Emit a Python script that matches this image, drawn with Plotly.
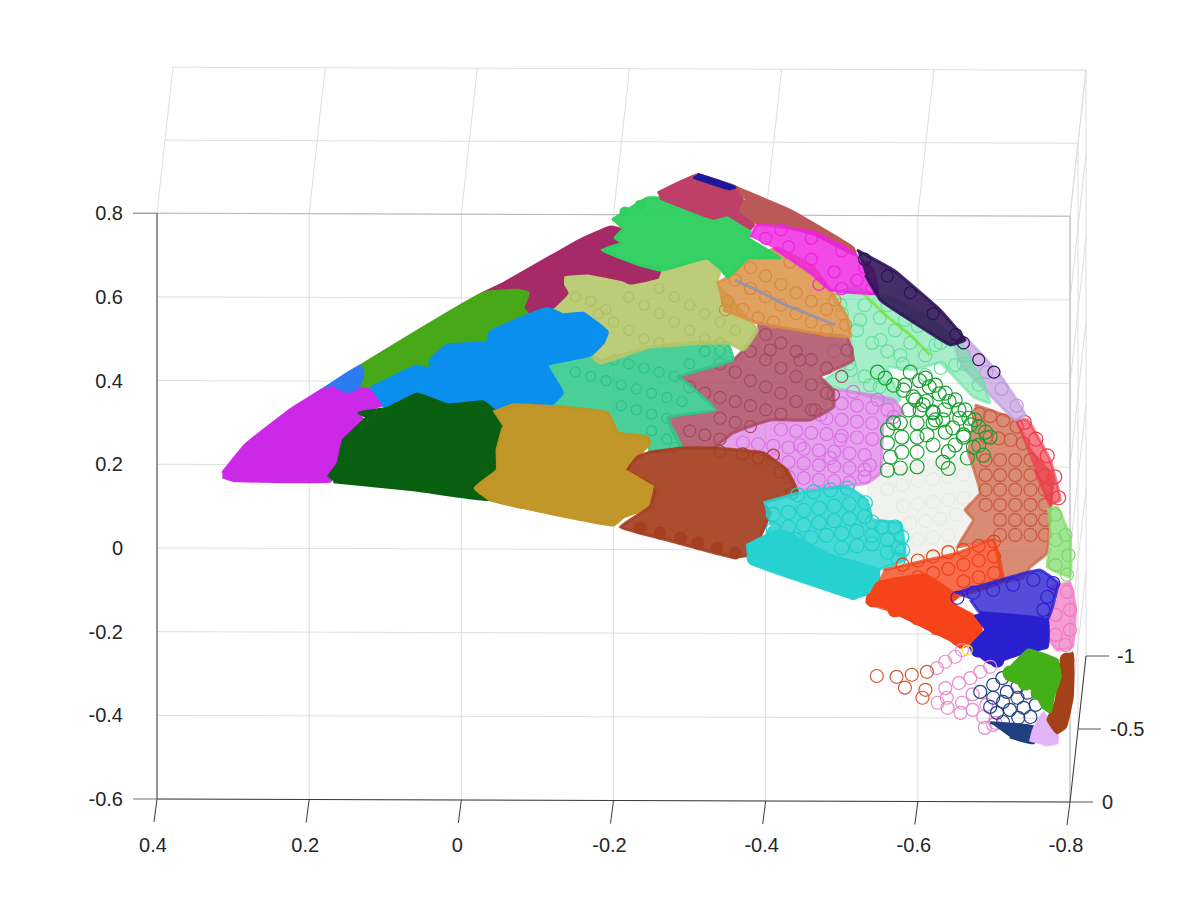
import plotly.graph_objects as go

x_ticks = [0.4, 0.2, 0, -0.2, -0.4, -0.6, -0.8]
y_ticks = [0.8, 0.6, 0.4, 0.2, 0, -0.2, -0.4, -0.6]
z_ticks = [0, -0.5, -1]
x_labels = ["0.4", "0.2", "0", "-0.2", "-0.4", "-0.6", "-0.8"]
y_labels = ["0.8", "0.6", "0.4", "0.2", "0", "-0.2", "-0.4", "-0.6"]
z_labels = ["0", "-0.5", "-1"]

purple_x = [.314,.284,.225,.179,.168,.120,.104,.137,.129,.155,.151,.175,.172,.300,.314]
purple_y = [.179,.246,.330,.382,.389,.377,.342,.323,.306,.258,.203,.179,.160,.162,.170]
sky_x = [.179,.133,.129,.135,.150,.168]
sky_y = [.382,.435,.418,.385,.373,.389]
leaf_x = [.133,-.029,-.074,-.088,-.081,-.088,-.038,-.034,.018,.041,.041,.058,.120,.135,.129]
leaf_y = [.435,.609,.616,.609,.573,.557,.516,.492,.485,.449,.425,.435,.382,.385,.418]
forest_x = [.175,.162,.155,.124,.135,.097,.058,.018,-.029,-.045,-.055,-.047,-.047,-.018,-.038,.063,.168]
forest_y = [.170,.203,.258,.313,.323,.334,.368,.342,.349,.325,.289,.234,.186,.143,.115,.139,.158]
azure_x = [.120,.058,.041,.041,.018,-.034,-.038,-.113,-.134,-.160,-.192,-.187,-.170,-.113,-.133,-.117,-.078,-.042,-.029,.018,.058,.097,.104]
azure_y = [.382,.435,.425,.449,.485,.492,.516,.573,.557,.561,.516,.492,.461,.437,.370,.342,.342,.325,.349,.342,.368,.334,.342]
gold_x = [-.042,-.068,-.147,-.192,-.206,-.244,-.248,-.231,-.218,-.255,-.248,-.213,-.200,-.095,-.038,-.018,-.047,-.047,-.055]
gold_y = [.325,.342,.334,.323,.275,.265,.251,.217,.186,.146,.098,.074,.055,.091,.115,.143,.186,.234,.289]
teal_x = [-.113,-.139,-.170,-.183,-.248,-.314,-.350,-.357,-.284,-.292,-.334,-.271,-.290,-.248,-.244,-.206,-.192,-.117,-.133]
teal_y = [.437,.461,.461,.449,.480,.492,.490,.449,.409,.401,.330,.311,.239,.229,.265,.275,.323,.342,.370]
raspberry_x = [-.029,-.051,-.156,-.196,-.212,-.202,-.212,-.185,-.235,-.261,-.258,-.222,-.213,-.166,-.134,-.133,-.139,-.121,-.113,-.088,-.081,-.088,-.074]
raspberry_y = [.609,.628,.736,.767,.760,.741,.729,.712,.676,.669,.647,.633,.640,.657,.652,.628,.609,.576,.573,.557,.573,.609,.616]
khaki_x = [-.134,-.166,-.213,-.261,-.279,-.323,-.340,-.336,-.389,-.371,-.350,-.248,-.183,-.170,-.187,-.192,-.156,-.121,-.121,-.139,-.133]
khaki_y = [.652,.657,.640,.657,.671,.693,.664,.633,.521,.473,.490,.480,.442,.461,.492,.521,.561,.540,.576,.609,.628]
emerald_x = [-.198,-.244,-.261,-.331,-.350,-.380,-.377,-.419,-.377,-.350,-.340,-.323,-.279,-.261,-.235,-.185,-.212,-.202,-.212]
emerald_y = [.784,.836,.836,.788,.796,.764,.741,.693,.693,.647,.669,.693,.671,.664,.676,.712,.729,.741,.760]
rose_x = [-.258,-.310,-.363,-.371,-.384,-.380,-.350,-.331,-.261]
rose_y = [.848,.891,.860,.824,.772,.764,.796,.788,.836]
navy_top_x = [-.310,-.360,-.353,-.305]
navy_top_y = [.893,.862,.858,.886]
clay_x = [-.360,-.432,-.515,-.518,-.465,-.419,-.389,-.367,-.373]
clay_y = [.862,.807,.717,.700,.748,.772,.776,.807,.831]
magenta_x = [-.380,-.389,-.419,-.463,-.515,-.541,-.547,-.485,-.459,-.410]
magenta_y = [.743,.772,.767,.755,.705,.664,.609,.616,.657,.717]
indigo_x = [-.520,-.568,-.629,-.662,-.643,-.610,-.551,-.531]
indigo_y = [.712,.664,.569,.497,.485,.521,.592,.652]
lilac_x = [-.643,-.662,-.708,-.741,-.728,-.689,-.656]
lilac_y = [.497,.502,.413,.318,.306,.377,.437]
orange_x = [-.336,-.350,-.377,-.415,-.463,-.485,-.507,-.511,-.463,-.389,-.344]
orange_y = [.633,.647,.688,.717,.671,.616,.552,.504,.514,.538,.569]
dusty_x = [-.389,-.463,-.507,-.515,-.472,-.489,-.489,-.459,-.406,-.357,-.331,-.290,-.271,-.334,-.292,-.284,-.357,-.371,-.389]
dusty_y = [.538,.514,.504,.449,.409,.377,.337,.306,.306,.275,.239,.239,.311,.330,.401,.409,.449,.473,.521]
mint_x = [-.485,-.515,-.547,-.568,-.612,-.656,-.682,-.695,-.673,-.629,-.594,-.560,-.577,-.568,-.507,-.472,-.515,-.507]
mint_y = [.600,.624,.604,.597,.552,.490,.409,.346,.361,.442,.425,.432,.354,.346,.377,.394,.449,.545]
orchid_x = [-.489,-.489,-.568,-.581,-.555,-.551,-.533,-.445,-.436,-.422,-.397,-.331,-.357,-.406,-.459]
orchid_y = [.337,.377,.354,.323,.299,.179,.155,.139,.146,.194,.227,.239,.275,.306,.306]
sienna_x = [-.218,-.231,-.248,-.290,-.331,-.397,-.428,-.442,-.397,-.406,-.393,-.393,-.357,-.271,-.209,-.248,-.255]
sienna_y = [.186,.217,.229,.239,.239,.227,.186,.131,.108,.084,.026,-.012,-.022,.019,.050,.098,.146]
cyan_x = [-.397,-.442,-.507,-.533,-.541,-.577,-.583,-.548,-.547,-.515,-.481,-.380,-.376,-.393,-.406]
cyan_y = [.108,.131,.146,.115,.067,.060,-.029,-.053,-.100,-.119,-.100,-.036,.007,.002,.050]
cyan_core_x = [-.376,-.419,-.485,-.548,-.547,-.515,-.481,-.380]
cyan_core_y = [.007,.043,-.017,-.053,-.100,-.119,-.100,-.036]
ivory_x = [-.533,-.555,-.643,-.665,-.682,-.665,-.673,-.652,-.646,-.555,-.581,-.586,-.573,-.533]
ivory_y = [.155,.186,.217,.210,.131,.115,.067,.002,-.012,-.053,-.036,.026,.060,.074]
vermilion_x = [-.555,-.652,-.699,-.712,-.652,-.643,-.682,-.682,-.656,-.643,-.616,-.590,-.561,-.533,-.547]
vermilion_y = [-.053,-.012,.019,-.081,-.117,-.131,-.172,-.220,-.237,-.220,-.196,-.172,-.148,-.131,-.084]
vermilion_core_x = [-.533,-.547,-.610,-.652,-.643,-.682,-.682,-.656,-.643,-.616,-.590,-.561]
vermilion_core_y = [-.131,-.084,-.065,-.117,-.131,-.172,-.220,-.237,-.220,-.196,-.172,-.148]
brick_x = [-.675,-.728,-.748,-.778,-.774,-.770,-.748,-.738,-.712,-.699,-.652,-.673,-.662,-.682,-.665]
brick_y = [.342,.306,.234,.170,.098,-.012,-.045,-.072,-.081,.019,.002,.067,.091,.131,.234]
scarlet_x = [-.728,-.744,-.774,-.787,-.774,-.754]
scarlet_y = [.306,.306,.210,.115,.103,.186]
spring_x = [-.770,-.783,-.800,-.800,-.770,-.774]
spring_y = [.091,.098,.026,-.069,-.045,.002]
pink_x = [-.774,-.800,-.807,-.803,-.783,-.765,-.770,-.783]
pink_y = [-.093,-.084,-.141,-.237,-.244,-.196,-.172,-.124]
royal_x = [-.649,-.761,-.784,-.770,-.682,-.669]
royal_y = [-.108,-.053,-.084,-.172,-.155,-.124]
royal_core_x = [-.682,-.770,-.770,-.738,-.695,-.669,-.689,-.675]
royal_core_y = [-.155,-.172,-.237,-.251,-.275,-.237,-.196,-.160]
lawn_x = [-.715,-.745,-.783,-.787,-.778,-.774,-.765,-.752,-.737,-.715]
lawn_y = [-.299,-.244,-.268,-.308,-.356,-.392,-.382,-.339,-.327,-.311]
rust_x = [-.784,-.803,-.803,-.794,-.783,-.771,-.781,-.787]
rust_y = [-.284,-.251,-.356,-.428,-.442,-.411,-.370,-.308]
mauve_x = [-.748,-.752,-.765,-.774,-.783,-.783,-.765]
mauve_y = [-.463,-.435,-.394,-.418,-.442,-.466,-.471]
navy_x = [-.695,-.752,-.752,-.721]
navy_y = [-.418,-.428,-.466,-.452]

vermilion_dots_x = [-.541,-.570,-.599,-.625,-.653]
vermilion_dots_y = [-.124,-.148,-.167,-.191,-.215]
cyan_dots_x = [-.384,-.410,-.435,-.461,-.487,-.515,-.537]
cyan_dots_y = [-.024,-.041,-.057,-.072,-.088,-.108,-.100]
royal_dots_x = [-.679,-.704,-.748]
royal_dots_y = [-.244,-.268,-.260]
sienna_dots_x = [-.360,-.336,-.311,-.288,-.261,-.235]
sienna_dots_y = [-.012,0,.012,.024,.036,.048]
lawn_dots_x = [-.721,-.741,-.758]
lawn_dots_y = [-.299,-.323,-.346]
rust_dots_x = [-.796,-.796,-.794,-.791,-.783]
rust_dots_y = [-.268,-.299,-.332,-.368,-.404]
emerald_dots_x = [-.215,-.235]
emerald_dots_y = [.803,.819]

grove_rings_x = [-.560,-.568,-.560,-.564,-.560,-.577,-.599,-.633,-.579,-.599,-.579,-.599,-.620,-.599,-.620,-.620,-.603,-.577,
                 -.547,-.557,-.568,-.581,-.594,-.607,-.620,-.633,-.646,-.660,-.673,-.686,
                 -.610,-.623,-.636,-.649,-.662,-.675,-.689,-.583,-.597,-.623,-.636,-.649,-.669,
                 -.590,-.602,-.615,-.628,-.641,-.654,-.667,-.680,-.695,-.588,-.611,-.635,-.655,-.612,-.640,-.660,-.680,-.640,-.665]
grove_rings_y = [.282,.299,.251,.217,.186,.191,.194,.205,.229,.229,.265,.265,.246,.299,.299,.323,.330,.299,
                 .420,.406,.389,.377,.361,.342,.325,.306,.287,.265,.241,.222,
                 .406,.389,.370,.354,.330,.306,.277,.389,.354,.306,.277,.246,.294,
                 .420,.400,.385,.368,.350,.330,.310,.290,.265,.330,.350,.330,.310,.270,.230,.270,.245,.190,.215]
cyan_rings_x = [-.531,-.540,-.570,-.579,-.574,-.574,-.553,-.507,-.485,-.463,-.442,
                -.41,-.43,-.45,-.47,-.49,-.51,-.41,-.43,-.45,-.47,-.49,-.51,-.53,
                -.44,-.46,-.48,-.50,-.52,-.54,-.56,-.50,-.52,-.54,-.56,-.58]
cyan_rings_y = [.108,.062,.050,.026,0,-.029,.050,.143,.139,.134,.127,
                .08,.085,.09,.095,.10,.105,.045,.05,.055,.06,.065,.07,.075,
                .02,.025,.03,.035,.04,.03,.02,0,.005,.01,-.01,-.005]
brick_rings_x = [-.689,-.708,-.728,-.748,-.767,-.689,-.708,-.728,-.748,-.767,-.689,-.708,-.728,-.748,-.767,-.689,-.708,-.728,-.748,-.767,-.708,-.728,-.748,-.767,-.708,-.728,-.748,
                 -.680,-.695,-.712,-.730,-.690,-.706,-.722,-.738]
brick_rings_y = [.210,.210,.210,.210,.174,.174,.174,.174,.174,.139,.139,.139,.139,.139,.103,.103,.103,.103,.103,.067,.067,.067,.067,.031,.031,.031,.031,
                 .320,.315,.305,.290,.265,.262,.258,.250]
royal_rings_x = [-.652,-.673,-.699,-.725,-.752,-.778,-.770,-.765]
royal_rings_y = [-.119,-.107,-.100,-.088,-.076,-.084,-.117,-.148]
spring_rings_x = [-.781,-.794,-.798,-.796,-.781,-.781]
spring_rings_y = [.079,.031,-.017,-.064,.019,-.041]
pink_rings_x = [-.796,-.800,-.800,-.781,-.781,-.794]
pink_rings_y = [-.105,-.148,-.196,-.160,-.208,-.232]
mint_rings_x = [-.498,-.524,-.551,-.577,-.610,-.583,-.623,-.649,-.512,-.537,
                -.50,-.52,-.54,-.56,-.58,-.53,-.55,-.57,-.59,-.61,-.63,-.49,-.51,-.53,-.55,-.56,-.60,-.63,-.66,-.68]
mint_rings_y = [.581,.545,.497,.461,.413,.545,.485,.437,.425,.389,
                .56,.52,.49,.47,.44,.58,.55,.52,.49,.46,.43,.47,.44,.41,.385,.58,.53,.49,.44,.39]
orchid_rings_x = [-.515,-.547,-.568,-.472,-.498,-.537,-.485,-.445,
                  -.50,-.52,-.54,-.56,-.48,-.50,-.52,-.54,-.42,-.44,-.46,-.48,-.50,-.52,-.54,
                  -.37,-.39,-.41,-.43,-.45,-.47,-.49,-.51,-.53,-.41,-.43,-.45,-.47,-.49,-.51,-.53,-.43,-.45,-.47,-.49,-.51,-.53]
orchid_rings_y = [.373,.354,.313,.318,.258,.198,.215,.246,
                  .345,.340,.335,.330,.310,.306,.302,.298,.283,.279,.275,.272,.268,.264,.260,
                  .252,.248,.244,.240,.237,.233,.230,.226,.222,.209,.205,.202,.198,.195,.191,.187,.170,.167,.163,.160,.156,.170]
dusty_rings_x = [-.489,-.465,-.507,-.406,-.445,
                 -.40,-.42,-.44,-.46,-.48,-.50,-.38,-.40,-.42,-.44,-.46,-.48,
                 -.34,-.36,-.38,-.40,-.42,-.44,-.46,-.30,-.32,-.34,-.36,-.38,-.40,-.42,-.34,-.36,-.38,-.30,-.32,-.34]
dusty_rings_y = [.366,.330,.473,.473,.449,
                 .51,.49,.47,.45,.43,.41,.47,.45,.43,.41,.39,.37,
                 .44,.42,.40,.385,.37,.35,.33,.385,.37,.36,.35,.34,.33,.32,.31,.30,.29,.28,.27,.26]
orange_rings_x = [-.347,-.505,-.491,-.432,-.36,-.38,-.40,-.42,-.44,-.46,-.48,-.38,-.40,-.42,-.44,-.46,-.48,-.35,-.37,-.39,-.41]
orange_rings_y = [.569,.533,.593,.683,.64,.62,.60,.58,.56,.54,.52,.67,.65,.63,.61,.59,.57,.59,.57,.55,.54]
khaki_rings_x = [-.22,-.24,-.26,-.28,-.30,-.32,-.34,-.26,-.28,-.30,-.32,-.34,-.36,-.18,-.20,-.22,-.24,-.26,-.15,-.17,-.19]
khaki_rings_y = [.60,.58,.56,.54,.52,.50,.49,.62,.60,.58,.56,.54,.52,.56,.54,.52,.50,.49,.60,.59,.57]
teal_rings_x = [-.15,-.17,-.19,-.21,-.23,-.25,-.27,-.29,-.20,-.22,-.24,-.26,-.28,-.30,-.32,-.34,-.21,-.23,-.25,-.27,-.25,-.27,-.28]
teal_rings_y = [.42,.41,.40,.39,.38,.37,.36,.35,.45,.44,.43,.42,.41,.44,.47,.47,.34,.33,.32,.31,.28,.26,.24]
vermilion_rings_x = [-.58,-.60,-.62,-.64,-.66,-.68,-.70,-.60,-.62,-.64,-.66,-.68,-.70,-.66,-.68,-.70]
vermilion_rings_y = [-.04,-.03,-.02,-.01,-.005,.005,.015,-.07,-.06,-.05,-.04,-.03,-.02,-.08,-.07,-.06]
ivory_rings_x = [-.56,-.58,-.60,-.62,-.64,-.66,-.58,-.60,-.62,-.64,-.66,-.59,-.61,-.63,-.65,-.60,-.62,-.64]
ivory_rings_y = [.14,.15,.16,.165,.17,.175,.10,.105,.11,.115,.12,.06,.065,.07,.08,.02,.025,.03]
sienna_rings_x = [-.410,-.419,-.435,-.39,-.37,-.34]
sienna_rings_y = [.222,.181,.131,.215,.225,.23]
magenta_rings_x = [-.40,-.43,-.46,-.49,-.52,-.54,-.42,-.46,-.50,-.53,-.47,-.50]
magenta_rings_y = [.74,.72,.69,.66,.64,.62,.76,.74,.71,.67,.63,.62]
indigo_rings_x = [-.53,-.56,-.59,-.62,-.65,-.66,-.68,-.70]
indigo_rings_y = [.69,.65,.61,.56,.51,.49,.45,.42]
lilac_rings_x = [-.66,-.69,-.71,-.73]
lilac_rings_y = [.46,.42,.38,.34]
scarlet_rings_x = [-.74,-.755,-.77,-.78,-.785]
scarlet_rings_y = [.30,.26,.22,.17,.12]
rust_orange_x = [-.546,-.572,-.592,-.612,-.583,-.610,-.606]
rust_orange_y = [-.306,-.308,-.303,-.296,-.334,-.339,-.358]
rose_pink_x = [-.625,-.636,-.649,-.658,-.636,-.654,-.669,-.682,-.695,-.626,-.638,-.639,-.658,-.656,-.672,-.686,-.699,-.688,-.702,-.672,-.690]
rose_pink_y = [-.287,-.272,-.260,-.244,-.335,-.323,-.311,-.296,-.284,-.370,-.358,-.382,-.370,-.394,-.387,-.404,-.423,-.430,-.418,-.350,-.375]
yellow_x = [-.665]
yellow_y = [-.244]
navy_rings_x = [-.682,-.699,-.711,-.699,-.717,-.731,-.695,-.712,-.731,-.744,-.704,-.721,-.739,-.755,-.712,-.732,-.748]
navy_rings_y = [-.344,-.327,-.311,-.358,-.344,-.332,-.380,-.368,-.358,-.346,-.394,-.387,-.382,-.375,-.416,-.406,-.404]
steel_x = [-.360,-.393,-.426,-.459,-.491]
steel_y = [.640,.612,.581,.557,.533]
lime_x = [-.524,-.557,-.590,-.616]
lime_y = [.616,.557,.509,.461]

L, R, T, B = 157, 1086, 68, 799
X0, X1 = 0.4, -0.821
Y0, Y1 = -0.6, 1.147

def paper(x, y, z=0, dx=0, dy=0):
    u = (x - X0) / (X1 - X0)
    v = (y - Y0) / (Y1 - Y0)
    px = u * (R - L) - 16 * z + dx
    py = v * (B - T) + (-146 * z) - 3 * (0.4 - x) / 1.2 - dy
    return px / (R - L), py / (B - T)

shapes = []
def seg(a, b, color, width=1):
    shapes.append(dict(type="line", xref="paper", yref="paper", layer="below",
                       x0=a[0], y0=a[1], x1=b[0], y1=b[1], line=dict(color=color, width=width)))

GRID = "#DEDEDE"
AXIS = "#3A3A3A"
for x in x_ticks:
    seg(paper(x, -0.6), paper(x, 0.8), GRID)
    seg(paper(x, 0.8), paper(x, 0.8, -1), GRID)
for y in y_ticks:
    seg(paper(0.4, y), paper(-0.8, y), GRID)
    seg(paper(-0.8, y), paper(-0.8, y, -1), GRID)
for z in z_ticks[1:]:
    seg(paper(0.4, 0.8, z), paper(-0.8, 0.8, z), GRID)
    seg(paper(-0.8, 0.8, z), paper(-0.8, -0.6, z), GRID)
seg(paper(-0.8, -0.6), paper(-0.8, 0.8), "#B8B8B8")
seg(paper(0.4, 0.8), paper(-0.8, 0.8), "#B8B8B8")
seg(paper(0.4, -0.6), paper(0.4, 0.8), AXIS)
seg(paper(0.4, -0.6), paper(-0.8, -0.6), AXIS)
seg(paper(-0.8, -0.6), paper(-0.8, -0.6, -1), AXIS)
for x in x_ticks:
    seg(paper(x, -0.6), paper(x, -0.6, 0, dx=-3, dy=23), AXIS)
seg(paper(0.4, -0.6), paper(0.4, -0.6, 0, dx=-24), "#777777")
seg(paper(0.4, 0.8), paper(0.4, 0.8, 0, dx=-24), "#777777")
for z in z_ticks:
    seg(paper(-0.8, -0.6, z), paper(-0.8, -0.6, z, dx=23), "#555555")

fig = go.Figure()

def blob(x, y, color, opacity=1.0):
    r, g, b = int(color[1:3], 16), int(color[3:5], 16), int(color[5:7], 16)
    fig.add_trace(go.Scatter(x=x, y=y, mode="lines", fill="toself",
                             fillcolor=f"rgba({r},{g},{b},{opacity})",
                             line=dict(color=f"rgba({r},{g},{b},{opacity})", width=3, shape="spline", smoothing=0.3),
                             hoverinfo="skip", showlegend=False))

def rings(x, y, color, size=13, width=1.2):
    fig.add_trace(go.Scatter(x=x, y=y, mode="markers", hoverinfo="skip", showlegend=False,
                             marker=dict(symbol="circle-open", size=size, color=color, line=dict(color=color, width=width))))

def dots(x, y, color, size=14):
    fig.add_trace(go.Scatter(x=x, y=y, mode="markers", hoverinfo="skip", showlegend=False,
                             marker=dict(size=size, color=color)))

blob(ivory_x, ivory_y, "#F0F2EE", 1)
rings(ivory_rings_x, ivory_rings_y, "#E4E7E2", 13, 1)
blob(brick_x, brick_y, "#CE6A4C", .78)
rings(brick_rings_x, brick_rings_y, "#C85A44")
blob(scarlet_x, scarlet_y, "#F03848", .65)
rings(scarlet_rings_x, scarlet_rings_y, "#F03848", 14)
blob(spring_x, spring_y, "#84DC70", .75)
rings(spring_rings_x, spring_rings_y, "#7ADC68")
blob(pink_x, pink_y, "#F288C8", .82)
rings(pink_rings_x, pink_rings_y, "#F078C0")
blob(lilac_x, lilac_y, "#C4A0E0", .75)
rings(lilac_rings_x, lilac_rings_y, "#BE96DC", 13)
blob(mint_x, mint_y, "#70E4A8", .62)
rings(mint_rings_x, mint_rings_y, "#66E0A0", 13)
blob(orchid_x, orchid_y, "#DC7CE6", .72)
rings(orchid_rings_x, orchid_rings_y, "#DA72E4", 13)
blob(dusty_x, dusty_y, "#AD4E64", .85)
rings(dusty_rings_x, dusty_rings_y, "#A84860", 12)
blob(teal_x, teal_y, "#32C88A", .88)
rings(teal_rings_x, teal_rings_y, "#2AC484", 10)
blob(khaki_x, khaki_y, "#B6C66A", .9)
rings(khaki_rings_x, khaki_rings_y, "#AEC060", 10)
blob(orange_x, orange_y, "#DC9044", .85)
rings(orange_rings_x, orange_rings_y, "#D88A3E", 12)
fig.add_trace(go.Scatter(x=steel_x, y=steel_y, mode="lines", line=dict(color="rgba(128,144,200,.7)", width=3), hoverinfo="skip", showlegend=False))
fig.add_trace(go.Scatter(x=lime_x, y=lime_y, mode="lines", line=dict(color="rgba(110,230,40,.7)", width=3), hoverinfo="skip", showlegend=False))
blob(raspberry_x, raspberry_y, "#A62A66")
blob(emerald_x, emerald_y, "#30D060", .97)
dots(emerald_dots_x, emerald_dots_y, "#30D060", 11)
blob(rose_x, rose_y, "#BC4068")
blob(clay_x, clay_y, "#BC5A58")
blob(navy_top_x, navy_top_y, "#1A1A9A")
blob(magenta_x, magenta_y, "#EE22E0", .82)
rings(magenta_rings_x, magenta_rings_y, "#EE22E0", 12)
blob(indigo_x, indigo_y, "#2C1254", .88)
rings(indigo_rings_x, indigo_rings_y, "#2C1254", 12)
rings(grove_rings_x, grove_rings_y, "#18A030", 14)
blob(leaf_x, leaf_y, "#47A818")
blob(purple_x, purple_y, "#CC28E8")
blob(sky_x, sky_y, "#2B7BF5")
blob(azure_x, azure_y, "#0A8FEF")
blob(forest_x, forest_y, "#085F10")
blob(gold_x, gold_y, "#C09525", .98)
blob(sienna_x, sienna_y, "#A63F22", .93)
rings(sienna_rings_x, sienna_rings_y, "#A63F22", 12)
dots(sienna_dots_x, sienna_dots_y, "#A63F22", 13)
blob(cyan_x, cyan_y, "#26D2CF", .85)
rings(cyan_rings_x, cyan_rings_y, "#20CECB", 14)
blob(cyan_core_x, cyan_core_y, "#26D2CF")
dots(cyan_dots_x, cyan_dots_y, "#26D2CF", 14)
blob(vermilion_x, vermilion_y, "#F5441A", .78)
rings(vermilion_rings_x, vermilion_rings_y, "#F23E14", 13)
blob(vermilion_core_x, vermilion_core_y, "#F5441A")
dots(vermilion_dots_x, vermilion_dots_y, "#F5441A", 15)
blob(royal_x, royal_y, "#2A20D0", .8)
rings(royal_rings_x, royal_rings_y, "#2A20D0")
blob(royal_core_x, royal_core_y, "#2A20D0")
dots(royal_dots_x, royal_dots_y, "#2A20D0", 15)
rings(rose_pink_x, rose_pink_y, "#E88AD0", 13)
rings(rust_orange_x, rust_orange_y, "#D05A30", 13)
rings(yellow_x, yellow_y, "#F0F020", 10)
rings(navy_rings_x, navy_rings_y, "#204080", 13)
blob(navy_x, navy_y, "#204080")
blob(mauve_x, mauve_y, "#E4B4F8")
blob(rust_x, rust_y, "#A54118")
dots(rust_dots_x, rust_dots_y, "#A54118", 15)
blob(lawn_x, lawn_y, "#44B018")
dots(lawn_dots_x, lawn_dots_y, "#44B018", 15)

annotations = []
z_offsets = [37, 49, 40]
for z, text, off in zip(z_ticks, z_labels, z_offsets):
    u, v = paper(-0.8, -0.6, z)
    annotations.append(dict(xref="paper", yref="paper", x=u + off / (R - L), y=v, text=text, showarrow=False,
                            xanchor="center", yanchor="middle", font=dict(family="Liberation Sans", size=20, color="#262626")))

axis_font = dict(family="Liberation Sans", size=20, color="#262626")
fig.update_layout(
    width=1200, height=900, autosize=False,
    margin=dict(l=L, r=1200 - R, t=T, b=900 - B),
    paper_bgcolor="white", plot_bgcolor="white",
    shapes=shapes, annotations=annotations, showlegend=False,
    xaxis=dict(range=[X0, X1], tickmode="array", tickvals=x_ticks, ticktext=x_labels, showgrid=False, zeroline=False,
               showline=False, ticks="", tickfont=axis_font, ticklabelstandoff=32, ticklabelshift=4),
    yaxis=dict(range=[Y0, Y1], tickmode="array", tickvals=y_ticks, ticktext=y_labels, showgrid=False, zeroline=False,
               showline=False, ticks="", tickfont=axis_font, ticklabelstandoff=33),
)
fig.write_html("out.html", post_script="document.body.style.margin='0';", config={"displayModeBar": False})
